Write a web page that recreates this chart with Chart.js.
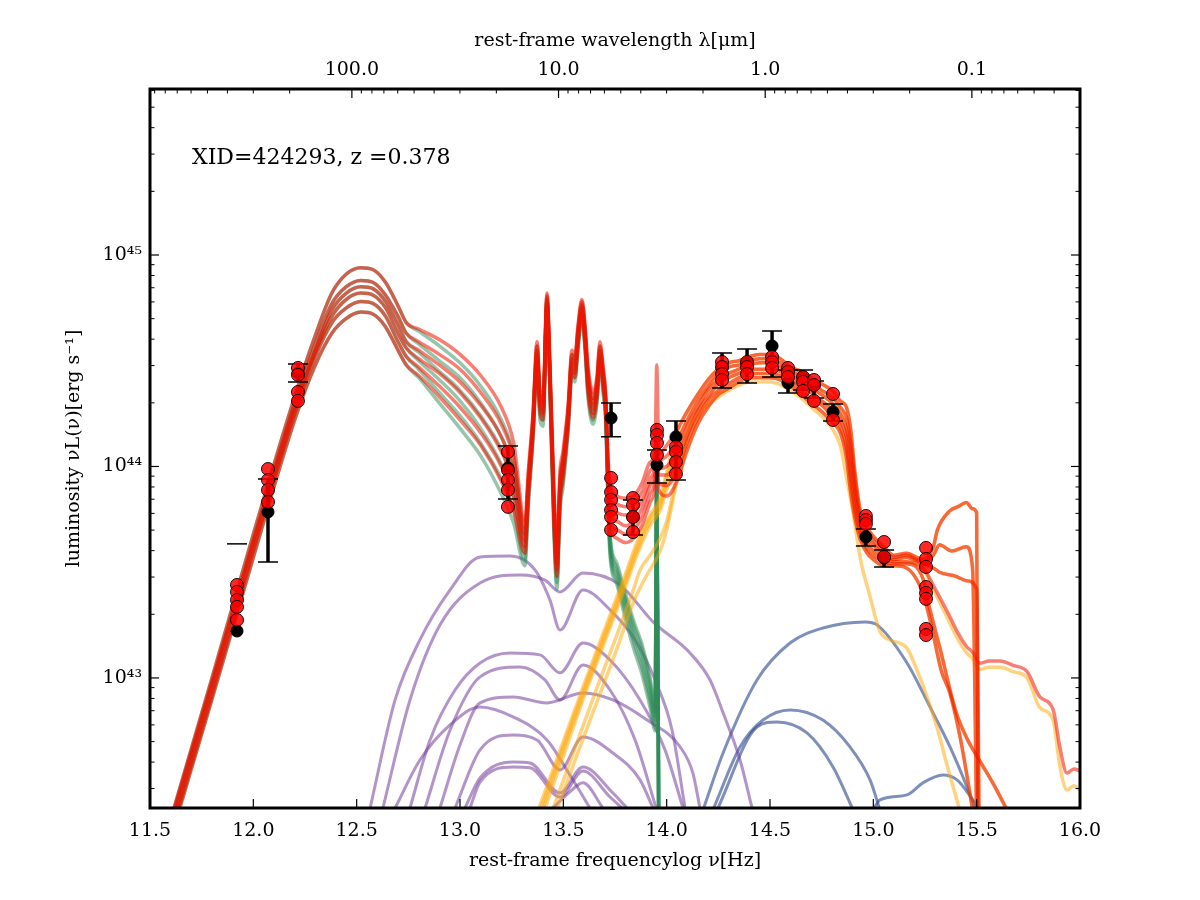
<!DOCTYPE html>
<html><head><meta charset="utf-8">
<script src="https://cdn.jsdelivr.net/npm/chart.js@4.4.1/dist/chart.umd.min.js"></script>
<style>html,body{margin:0;padding:0;background:#fff;}canvas{display:block;}</style>
</head><body>
<canvas id="c" width="1200" height="900"></canvas>
<script>
// ---------- axis ticks ----------
const xTickValues = [11.5, 12.0, 12.5, 13.0, 13.5, 14.0, 14.5, 15.0, 15.5, 16.0];
const xTickLabels = ['11.5','12.0','12.5','13.0','13.5','14.0','14.5','15.0','15.5','16.0'];
const wavelengthTicks = [100.0, 10.0, 1.0, 0.1];
const wavelengthLabels = ['100.0','10.0','1.0','0.1'];
const yTickExps = [43, 44, 45];
const yTickLabels = ['10\u2074\u00b3', '10\u2074\u2074', '10\u2074\u2075'];
const C_UM = 2.998e14; // speed of light in micron/s

// ---------- starburst (green) & total (red) models, log10 L vs log10 nu ----------
const firGrid = [11.60, 11.80, 12.00, 12.20, 12.30, 12.38, 12.45, 12.52, 12.58, 12.64, 12.70, 12.74, 12.80, 12.90, 13.00, 13.10, 13.20, 13.26, 13.314, 13.33, 13.353, 13.373, 13.387, 13.402, 13.421, 13.435, 13.455, 13.469, 13.484, 13.498, 13.523, 13.542, 13.556, 13.571, 13.590, 13.605, 13.619, 13.644, 13.663, 13.677, 13.692, 13.706, 13.716, 13.726];
const sbTailGrid = [13.76, 13.80, 13.84, 13.88, 13.92, 13.944, 13.952, 13.962];

const sb1 = [42.33, 43.00, 43.68, 44.33, 44.62, 44.82, 44.91, 44.94, 44.93, 44.87, 44.76, 44.68, 44.64, 44.57, 44.49, 44.38, 44.22, 44.05, 43.68, 43.92, 44.22, 44.57, 44.33, 44.30, 44.80, 44.46, 43.83, 43.57, 43.93, 44.03, 44.26, 44.53, 44.50, 44.65, 44.77, 44.65, 44.45, 44.32, 44.40, 44.57, 44.45, 44.29, 43.95, 43.68, 43.54, 43.40, 43.27, 43.16, 43.00, 42.86, 43.95, 42.20];
const sb2 = [42.30, 42.97, 43.65, 44.30, 44.58, 44.77, 44.85, 44.88, 44.87, 44.81, 44.71, 44.63, 44.58, 44.50, 44.42, 44.30, 44.14, 43.98, 43.65, 43.90, 44.20, 44.55, 44.31, 44.28, 44.79, 44.44, 43.80, 43.54, 43.90, 44.00, 44.24, 44.51, 44.48, 44.63, 44.76, 44.63, 44.42, 44.29, 44.38, 44.55, 44.43, 44.27, 43.92, 43.66, 43.52, 43.38, 43.25, 43.14, 42.98, 42.84, 43.93, 42.20];
const sb3 = [42.32, 42.98, 43.64, 44.28, 44.55, 44.74, 44.82, 44.85, 44.84, 44.78, 44.67, 44.59, 44.54, 44.45, 44.36, 44.24, 44.08, 43.92, 43.62, 43.87, 44.18, 44.53, 44.29, 44.26, 44.77, 44.42, 43.76, 43.51, 43.87, 43.98, 44.22, 44.49, 44.46, 44.61, 44.74, 44.61, 44.40, 44.27, 44.36, 44.53, 44.41, 44.25, 43.90, 43.64, 43.50, 43.36, 43.22, 43.11, 42.95, 42.82, 43.92, 42.20];
const sb4 = [42.28, 42.95, 43.62, 44.27, 44.54, 44.71, 44.79, 44.82, 44.81, 44.75, 44.63, 44.56, 44.50, 44.41, 44.31, 44.18, 44.01, 43.86, 43.59, 43.85, 44.16, 44.51, 44.27, 44.24, 44.76, 44.40, 43.73, 43.48, 43.84, 43.95, 44.20, 44.47, 44.44, 44.59, 44.73, 44.59, 44.38, 44.25, 44.34, 44.51, 44.39, 44.23, 43.87, 43.62, 43.48, 43.34, 43.20, 43.08, 42.92, 42.80, 43.90, 42.20];
const sb5 = [42.26, 42.92, 43.60, 44.25, 44.52, 44.68, 44.75, 44.78, 44.77, 44.71, 44.59, 44.52, 44.46, 44.35, 44.24, 44.11, 43.94, 43.79, 43.56, 43.83, 44.14, 44.49, 44.25, 44.22, 44.75, 44.38, 43.70, 43.45, 43.82, 43.93, 44.18, 44.45, 44.42, 44.57, 44.72, 44.57, 44.35, 44.22, 44.32, 44.49, 44.37, 44.21, 43.85, 43.60, 43.46, 43.31, 43.17, 43.05, 42.89, 42.78, 43.88, 42.20];
const sb6 = [42.24, 42.90, 43.57, 44.22, 44.48, 44.63, 44.70, 44.73, 44.72, 44.66, 44.55, 44.48, 44.42, 44.30, 44.18, 44.05, 43.87, 43.73, 43.53, 43.80, 44.12, 44.47, 44.22, 44.19, 44.73, 44.36, 43.67, 43.42, 43.79, 43.90, 44.16, 44.43, 44.40, 44.55, 44.70, 44.55, 44.33, 44.20, 44.30, 44.47, 44.35, 44.19, 43.82, 43.58, 43.44, 43.28, 43.14, 43.02, 42.86, 42.75, 43.86, 42.20];

const totMir1 = [42.33, 43.00, 43.68, 44.33, 44.62, 44.82, 44.91, 44.94, 44.93, 44.87, 44.76, 44.68, 44.65, 44.60, 44.53, 44.43, 44.28, 44.11, 43.74, 43.97, 44.25, 44.59, 44.36, 44.33, 44.82, 44.49, 43.88, 43.63, 43.98, 44.07, 44.29, 44.55, 44.52, 44.67, 44.79, 44.67, 44.48, 44.35, 44.43, 44.59, 44.48, 44.33, 44.05, 43.92];
const totMir2 = [42.30, 42.97, 43.65, 44.30, 44.58, 44.77, 44.85, 44.88, 44.87, 44.81, 44.71, 44.63, 44.59, 44.53, 44.46, 44.35, 44.20, 44.04, 43.71, 43.95, 44.23, 44.57, 44.34, 44.31, 44.81, 44.47, 43.85, 43.60, 43.95, 44.04, 44.27, 44.53, 44.50, 44.65, 44.78, 44.65, 44.45, 44.32, 44.41, 44.57, 44.46, 44.31, 44.02, 43.86];
const totMir3 = [42.32, 42.98, 43.64, 44.28, 44.55, 44.74, 44.82, 44.85, 44.84, 44.78, 44.67, 44.59, 44.55, 44.48, 44.40, 44.29, 44.14, 43.98, 43.68, 43.92, 44.21, 44.55, 44.32, 44.29, 44.79, 44.45, 43.81, 43.57, 43.92, 44.02, 44.25, 44.51, 44.48, 44.63, 44.76, 44.63, 44.43, 44.30, 44.39, 44.55, 44.44, 44.29, 44.00, 43.82];
const totMir4 = [42.28, 42.95, 43.62, 44.27, 44.54, 44.71, 44.79, 44.82, 44.81, 44.75, 44.63, 44.56, 44.51, 44.44, 44.35, 44.23, 44.07, 43.92, 43.65, 43.90, 44.19, 44.53, 44.30, 44.27, 44.78, 44.43, 43.78, 43.54, 43.89, 43.99, 44.23, 44.49, 44.46, 44.61, 44.75, 44.61, 44.41, 44.28, 44.37, 44.53, 44.42, 44.27, 43.97, 43.78];
const totMir5 = [42.26, 42.92, 43.60, 44.25, 44.52, 44.68, 44.75, 44.78, 44.77, 44.71, 44.59, 44.52, 44.47, 44.38, 44.28, 44.16, 44.00, 43.85, 43.62, 43.88, 44.17, 44.51, 44.28, 44.25, 44.77, 44.41, 43.75, 43.51, 43.87, 43.97, 44.21, 44.47, 44.44, 44.59, 44.74, 44.59, 44.38, 44.25, 44.35, 44.51, 44.40, 44.25, 43.95, 43.74];
const totMir6 = [42.24, 42.90, 43.57, 44.22, 44.48, 44.63, 44.70, 44.73, 44.72, 44.66, 44.55, 44.48, 44.43, 44.33, 44.22, 44.10, 43.93, 43.79, 43.59, 43.85, 44.15, 44.49, 44.25, 44.22, 44.75, 44.39, 43.72, 43.48, 43.84, 43.94, 44.19, 44.45, 44.42, 44.57, 44.72, 44.57, 44.36, 44.23, 44.33, 44.49, 44.38, 44.23, 43.92, 43.72];

const optGrid = [13.76, 13.80, 13.84, 13.88, 13.92, 13.944, 13.952, 13.962, 14.00, 14.05, 14.10, 14.15, 14.20, 14.25, 14.30, 14.35, 14.40, 14.45, 14.50, 14.55, 14.60, 14.65, 14.70, 14.75, 14.80, 14.84, 14.87, 14.89, 14.91, 14.935, 14.97, 15.00, 15.05, 15.10, 15.16, 15.24];
const totOpt1 = [43.86, 43.85, 43.86, 43.92, 44.02, 44.08, 44.48, 44.06, 44.10, 44.17, 44.26, 44.34, 44.41, 44.46, 44.49, 44.50, 44.52, 44.53, 44.53, 44.51, 44.47, 44.45, 44.42, 44.39, 44.36, 44.31, 44.28, 44.18, 43.98, 43.80, 43.71, 43.67, 43.62, 43.58, 43.59, 43.56];
const totOpt2 = [43.82, 43.81, 43.82, 43.88, 43.98, 44.04, 44.20, 44.03, 44.05, 44.12, 44.22, 44.31, 44.38, 44.44, 44.47, 44.48, 44.50, 44.51, 44.51, 44.49, 44.45, 44.43, 44.40, 44.36, 44.33, 44.28, 44.23, 44.12, 43.94, 43.77, 43.69, 43.65, 43.60, 43.57, 43.58, 43.55];
const totOpt3 = [43.78, 43.77, 43.78, 43.84, 43.94, 44.01, 44.12, 43.99, 44.00, 44.07, 44.19, 44.28, 44.36, 44.41, 44.44, 44.46, 44.48, 44.49, 44.49, 44.47, 44.43, 44.41, 44.37, 44.34, 44.30, 44.25, 44.18, 44.06, 43.89, 43.74, 43.66, 43.63, 43.58, 43.56, 43.57, 43.54];
const totOpt4 = [43.74, 43.72, 43.74, 43.80, 43.91, 43.97, 44.10, 43.96, 43.96, 44.03, 44.15, 44.26, 44.33, 44.39, 44.42, 44.44, 44.46, 44.46, 44.46, 44.45, 44.42, 44.38, 44.35, 44.31, 44.27, 44.22, 44.14, 44.00, 43.85, 43.72, 43.64, 43.60, 43.57, 43.55, 43.55, 43.52];
const totOpt5 = [43.70, 43.68, 43.70, 43.76, 43.87, 43.94, 44.05, 43.92, 43.91, 43.98, 44.12, 44.23, 44.31, 44.36, 44.39, 44.42, 44.44, 44.44, 44.44, 44.43, 44.40, 44.36, 44.32, 44.29, 44.24, 44.19, 44.09, 43.94, 43.80, 43.69, 43.61, 43.58, 43.55, 43.54, 43.54, 43.47];
const totOpt6 = [43.66, 43.64, 43.66, 43.72, 43.83, 43.90, 44.02, 43.89, 43.86, 43.93, 44.08, 44.20, 44.28, 44.34, 44.37, 44.40, 44.42, 44.42, 44.42, 44.41, 44.38, 44.34, 44.30, 44.26, 44.21, 44.16, 44.04, 43.88, 43.76, 43.66, 43.59, 43.56, 43.53, 43.53, 43.52, 43.40];

const totUv1 = [[15.29,43.62],[15.31,43.70],[15.37,43.79],[15.41,43.81],[15.45,43.83],[15.48,43.80],[15.50,43.78],[15.506,42.30]];
const totUv2 = [[15.29,43.58],[15.32,43.63],[15.38,43.60],[15.45,43.62],[15.48,43.52],[15.50,42.30]];
const totUv3 = [[15.29,43.52],[15.32,43.50],[15.40,43.48],[15.45,43.46],[15.50,43.42],[15.512,42.30]];
const totUv4 = [[15.30,43.42],[15.37,43.29],[15.405,43.22],[15.45,43.15],[15.482,43.12],[15.516,43.07],[15.56,43.08],[15.613,43.08],[15.676,43.06],[15.744,43.03],[15.806,42.91],[15.87,42.85],[15.903,42.67],[15.937,42.55],[15.97,42.57],[16.0,42.56]];
const totUv5 = [[15.26,43.38],[15.32,43.15],[15.40,42.84],[15.45,42.72],[15.52,42.60],[15.58,42.50],[15.65,42.37]];
const totUv6 = [[15.28,43.25],[15.33,43.03],[15.37,42.93],[15.42,42.72],[15.48,42.38]];

// ---------- host galaxy (orange): rising mid-IR part; follows the totals in the optical/UV ----------
const galMir1 = [[13.38,42.38],[13.50,42.70],[13.60,42.97],[13.70,43.23],[13.80,43.49],[13.86,43.65],[13.92,43.77],[13.968,43.85],[14.00,43.97]];
const galMir2 = [[13.39,42.38],[13.50,42.68],[13.60,42.95],[13.70,43.21],[13.80,43.47],[13.86,43.63],[13.92,43.76],[13.968,43.83],[14.00,43.95]];
const galMir3 = [[13.40,42.38],[13.50,42.66],[13.60,42.93],[13.70,43.19],[13.80,43.45],[13.86,43.61],[13.92,43.74],[13.968,43.81],[14.00,43.92]];
const galMir4 = [[13.41,42.38],[13.50,42.63],[13.60,42.91],[13.70,43.17],[13.80,43.43],[13.86,43.59],[13.92,43.72],[13.968,43.79],[14.00,43.89]];
const galMir5 = [[13.45,42.38],[13.55,42.65],[13.65,42.92],[13.75,43.18],[13.84,43.42],[13.871,43.51],[13.92,43.58],[13.968,43.66],[14.00,43.74],[14.03,43.87]];
const galMir6 = [[13.47,42.38],[13.56,42.62],[13.66,42.88],[13.76,43.14],[13.84,43.36],[13.90,43.48],[13.968,43.60],[14.00,43.70],[14.03,43.84]];
const galTail4 = [[15.30,43.40],[15.37,43.26],[15.405,43.19],[15.45,43.12],[15.482,43.09],[15.516,43.04],[15.56,43.05],[15.613,43.05],[15.676,43.03],[15.744,43.00],[15.806,42.86],[15.87,42.80],[15.903,42.58],[15.937,42.47],[15.97,42.49],[16.0,42.47]];
const galLow = [[14.07,43.98],[14.098,44.14],[14.15,44.24],[14.20,44.29],[14.30,44.36],[14.40,44.40],[14.50,44.40],[14.60,44.36],[14.70,44.28],[14.80,44.18],[14.84,44.10],[14.87,43.95],[14.902,43.78],[14.94,43.55],[14.98,43.40],[15.032,43.22],[15.08,43.18],[15.163,43.14],[15.21,43.04],[15.26,42.91],[15.31,42.76],[15.356,42.59],[15.42,42.37]];

// ---------- torus (purple) ----------
const torus1 = [[12.565,42.385],[12.686,42.896],[12.806,43.18],[12.952,43.416],[13.097,43.572],[13.242,43.577],[13.363,43.511],[13.435,43.369],[13.484,43.227],[13.595,43.416],[13.726,43.322],[13.847,43.18],[13.944,42.99],[14.026,42.754],[14.089,42.385]];
const torus2 = [[12.627,42.385],[12.758,42.896],[12.903,43.25],[13.097,43.449],[13.290,43.487],[13.411,43.463],[13.484,43.407],[13.595,43.496],[13.774,43.44],[13.934,43.265],[14.113,43.118],[14.21,42.99],[14.273,42.835],[14.355,42.612],[14.413,42.385]];
const torus3 = [[12.758,42.385],[12.855,42.707],[12.976,42.943],[13.097,43.071],[13.242,43.118],[13.387,43.109],[13.484,43.024],[13.595,43.165],[13.726,43.085],[13.871,42.896],[13.992,42.66],[14.079,42.385]];
const torus4 = [[12.831,42.385],[12.952,42.754],[13.097,43.005],[13.290,43.052],[13.411,42.991],[13.484,42.896],[13.595,43.061],[13.726,42.943],[13.847,42.707],[13.949,42.385]];
const torus5 = [[12.903,42.385],[13.0,42.683],[13.097,42.882],[13.257,42.91],[13.421,42.882],[13.595,42.929],[13.74,42.896],[13.905,42.801],[14.065,42.674],[14.127,42.55],[14.161,42.385]];
const torus6 = [[12.686,42.385],[12.806,42.612],[12.952,42.778],[13.097,42.863],[13.257,42.816],[13.421,42.707],[13.532,42.541],[13.629,42.385]];
const torus7 = [[12.976,42.385],[13.097,42.66],[13.257,42.73],[13.373,42.707],[13.484,42.565],[13.595,42.721],[13.74,42.645],[13.871,42.518],[13.934,42.385]];
const torus8 = [[13.024,42.385],[13.097,42.527],[13.257,42.603],[13.339,42.598],[13.484,42.456],[13.595,42.579],[13.74,42.456],[13.808,42.385]];
const torus9 = [[13.048,42.385],[13.097,42.508],[13.257,42.579],[13.339,42.575],[13.484,42.437],[13.595,42.56],[13.726,42.437],[13.784,42.385]];
const torus10 = [[13.45,42.385],[13.53,42.46],[13.595,42.504],[13.692,42.385]];

// ---------- big blue bump (blue) ----------
const bbb1 = [[14.176,42.376],[14.273,42.645],[14.437,42.99],[14.597,43.165],[14.756,43.236],[14.96,43.265],[15.018,43.251],[15.163,43.071],[15.274,42.863],[15.371,42.674],[15.453,42.485],[15.492,42.385]];
const bbb2 = [[14.224,42.376],[14.355,42.674],[14.466,42.801],[14.597,42.849],[14.756,42.801],[14.887,42.674],[14.984,42.518],[15.032,42.376]];
const bbb3 = [[14.244,42.376],[14.437,42.768],[14.534,42.792],[14.679,42.74],[14.805,42.579],[14.902,42.376]];
const bbb4 = [[14.998,42.376],[15.032,42.423],[15.163,42.447],[15.24,42.504],[15.337,42.541],[15.405,42.518],[15.482,42.423],[15.516,42.376]];

// ---------- model photometry (red circles) ----------
const modelX = [11.921,11.921,11.921,11.921,11.921, 12.071,12.071,12.071,12.071, 12.216,12.216,12.216,12.216, 13.232,13.232,13.232,13.232,13.232, 13.731,13.731,13.731,13.731,13.731,13.731, 13.837,13.837,13.837,13.837, 13.953,13.953,13.953,13.953, 14.045,14.045,14.045,14.045, 14.268,14.268,14.268,14.268, 14.389,14.389,14.389, 14.510,14.510,14.510, 14.587,14.587,14.587, 14.660,14.660,14.660, 14.713,14.713,14.713, 14.805,14.805, 14.964,14.964,14.964, 15.052,15.052, 15.255,15.255,15.255,15.255,15.255,15.255,15.255,15.255];
const modelY = [43.44,43.407,43.369,43.336,43.274, 43.988,43.936,43.889,43.832, 44.466,44.433,44.352,44.31, 44.069,43.983,43.936,43.889,43.809, 43.946,43.879,43.842,43.794,43.761,43.70, 43.851,43.818,43.761,43.69, 44.173,44.149,44.111,44.054, 44.092,44.069,44.021,43.965, 44.494,44.47,44.437,44.409, 44.494,44.47,44.437, 44.518,44.494,44.466, 44.466,44.447,44.423, 44.423,44.40,44.357, 44.409,44.385,44.31, 44.343,44.22, 43.766,43.747,43.728, 43.643,43.572, 43.615,43.563,43.525,43.43,43.402,43.374,43.232,43.203];

// ---------- observed photometry (black circles with errors) ----------
const obsX  = [12.071, 12.216, 13.232, 13.731, 13.837, 13.953, 14.045, 14.268, 14.389, 14.510, 14.587, 14.660, 14.713, 14.805, 14.964, 15.052];
const obsY  = [43.785, 44.442, 43.993, 44.229, 43.761, 44.007, 44.140, 44.466, 44.489, 44.570, 44.395, 44.423, 44.385, 44.258, 43.667, 43.567];
const obsLo = [43.548, 44.400, 43.846, 44.140, 43.676, 43.922, 43.936, 44.371, 44.395, 44.423, 44.348, 44.362, 44.324, 44.215, 43.624, 43.525];
const obsHi = [43.941, 44.485, 44.097, 44.300, 43.842, 44.078, 44.215, 44.537, 44.556, 44.641, 44.456, 44.456, 44.404, 44.296, 43.704, 43.605];
const obsCapX = [11.921];
const obsCapY = [43.634];
const obsLowX = [11.921];
const obsLowY = [43.222];

// ---------- helpers ----------
const P = v => Math.pow(10, v);
const toPts = (xs, ys) => xs.map((x, i) => ({x: x, y: P(ys[i])}));
const pairPts = arr => arr.map(p => ({x: p[0], y: P(p[1])}));

const SERIF = '"DejaVu Serif", "Liberation Serif", serif';
const GREEN = 'rgba(46,139,87,0.5)';
const RED = 'rgba(240,20,0,0.55)';
const ORANGE = 'rgba(255,165,0,0.5)';
const PURPLE = 'rgba(115,60,155,0.55)';
const BLUE = 'rgba(40,70,140,0.6)';

function curve(data, color, width, order) {
  return {data: data, showLine: true, borderColor: color, backgroundColor: color, borderWidth: width,
    pointRadius: 0, pointHoverRadius: 0, tension: 0, cubicInterpolationMode: 'monotone', fill: false, order: order, clip: 0,
    borderJoinStyle: 'round', borderCapStyle: 'round'};
}

const datasets = [];
[torus1,torus2,torus3,torus4,torus5,torus6,torus7,torus8,torus9,torus10].forEach(t => datasets.push(curve(pairPts(t), PURPLE, 3, 20)));
[bbb1,bbb2,bbb3,bbb4].forEach(b => datasets.push(curve(pairPts(b), BLUE, 3, 20)));
const sbGridAll = firGrid.concat(sbTailGrid);
[sb1,sb2,sb3,sb4,sb5,sb6].forEach(s => datasets.push(curve(toPts(sbGridAll, s), GREEN, 3.5, 16)));
const totM = [totMir1,totMir2,totMir3,totMir4,totMir5,totMir6];
const totO = [totOpt1,totOpt2,totOpt3,totOpt4,totOpt5,totOpt6];
const totU = [totUv1,totUv2,totUv3,totUv4,totUv5,totUv6];
const galM = [galMir1,galMir2,galMir3,galMir4,galMir5,galMir6];
const optFromK = optGrid.slice(9);
for (let i = 0; i < 6; i++) {
  const tail = (i === 3) ? galTail4 : totU[i];
  datasets.push(curve(pairPts(galM[i]).concat(toPts(optFromK, totO[i].slice(9)), pairPts(tail)), ORANGE, 3.5, 15));
}
datasets.push(curve(pairPts(galLow), ORANGE, 3.5, 15));
for (let i = 0; i < 6; i++) {
  datasets.push(curve(toPts(firGrid, totM[i]).concat(toPts(optGrid, totO[i]), pairPts(totU[i])), RED, 3.5, 14));
}
datasets.push({label: 'observed', data: toPts(obsX, obsY).concat(toPts(obsLowX, obsLowY)), showLine: false,
  pointRadius: 6, pointBackgroundColor: '#000', pointBorderColor: '#000', pointBorderWidth: 1, order: 3, clip: 0});
datasets.push({label: 'model', data: toPts(modelX, modelY), showLine: false,
  pointRadius: 6.5, pointBackgroundColor: 'rgba(255,0,0,0.85)', pointBorderColor: 'rgba(0,0,0,0.9)', pointBorderWidth: 1, order: 1, clip: 0});

// ---------- plugins ----------
const errorBars = {
  id: 'errorBars',
  beforeDatasetDraw(chart, args) {
    if (chart.data.datasets[args.index].label !== 'observed') return;
    const {ctx, scales: {x, y}, chartArea: a} = chart;
    ctx.save();
    ctx.beginPath(); ctx.rect(a.left, a.top, a.right - a.left, a.bottom - a.top); ctx.clip();
    ctx.strokeStyle = '#000';
    obsX.forEach((v, i) => {
      const px = x.getPixelForValue(v);
      const lo = y.getPixelForValue(P(obsLo[i])), hi = y.getPixelForValue(P(obsHi[i]));
      ctx.lineWidth = 3.5; ctx.beginPath(); ctx.moveTo(px, lo); ctx.lineTo(px, hi); ctx.stroke();
      ctx.lineWidth = 1.5; ctx.beginPath();
      ctx.moveTo(px - 10, lo); ctx.lineTo(px + 10, lo);
      ctx.moveTo(px - 10, hi); ctx.lineTo(px + 10, hi); ctx.stroke();
    });
    obsCapX.forEach((v, i) => {
      const px = x.getPixelForValue(v), py = y.getPixelForValue(P(obsCapY[i]));
      ctx.lineWidth = 1.5; ctx.beginPath(); ctx.moveTo(px - 10, py); ctx.lineTo(px + 10, py); ctx.stroke();
    });
    ctx.restore();
  }
};

const frame = {
  id: 'frame',
  afterDraw(chart) {
    const {ctx, chartArea: a, scales} = chart;
    const L = a.left, R = a.right, T = a.top, B = a.bottom;
    ctx.save();
    ctx.strokeStyle = '#000';
    const seg = (x1, y1, x2, y2, w) => { ctx.lineWidth = w; ctx.beginPath(); ctx.moveTo(x1, y1); ctx.lineTo(x2, y2); ctx.stroke(); };
    xTickValues.forEach(v => { const px = scales.x.getPixelForValue(v); seg(px, B, px, B - 9, 1.2); });
    wavelengthTicks.forEach(l => { const px = scales.x2.getPixelForValue(Math.log10(C_UM / l)); seg(px, T, px, T + 9, 1.2); });
    for (let d = -2; d <= 2; d++) {
      for (let k = 2; k <= 9; k++) {
        const lam = k * Math.pow(10, d);
        const v = Math.log10(C_UM / lam);
        if (v <= 11.5 || v >= 16) continue;
        const px = scales.x2.getPixelForValue(v); seg(px, T, px, T + 4.5, 1);
      }
    }
    yTickExps.forEach(e => { const py = scales.y.getPixelForValue(P(e)); seg(L, py, L + 9, py, 1.2); seg(R, py, R - 9, py, 1.2); });
    for (let e = 42; e <= 45; e++) {
      for (let k = 2; k <= 9; k++) {
        const v = k * P(e);
        if (v < scales.y.min || v > scales.y.max) continue;
        const py = scales.y.getPixelForValue(v); seg(L, py, L + 4.5, py, 1); seg(R, py, R - 4.5, py, 1);
      }
    }
    ctx.lineWidth = 3;
    ctx.strokeRect(L, T, R - L, B - T);
    ctx.fillStyle = '#000';
    ctx.font = '22px ' + SERIF;
    ctx.textBaseline = 'alphabetic';
    ctx.textAlign = 'left';
    ctx.fillText('XID=424293, z =0.378', L + 42, T + 75);
    ctx.restore();
  }
};

const tickFont = {family: SERIF, size: 19};
const titleFont = {family: SERIF, size: 19};

new Chart(document.getElementById('c'), {
  type: 'scatter',
  data: {datasets: datasets},
  plugins: [errorBars, frame],
  options: {
    responsive: false, animation: false, devicePixelRatio: 1,
    layout: {padding: {left: 0, right: 120, top: 0, bottom: 0}},
    plugins: {legend: {display: false}, tooltip: {enabled: false}},
    scales: {
      x: {
        type: 'linear', position: 'bottom', min: 11.5, max: 16.0,
        afterBuildTicks: s => { s.ticks = xTickValues.map(v => ({value: v})); },
        ticks: {callback: (v, i) => xTickLabels[i], font: tickFont, color: '#000', padding: 12, maxRotation: 0, autoSkip: false},
        grid: {display: false, drawTicks: false}, border: {display: false},
        title: {display: true, text: 'rest-frame frequencylog \u03bd[Hz]', font: titleFont, color: '#000', padding: {top: 0, bottom: 28}},
        afterFit: s => { s.height = 92; }
      },
      x2: {
        type: 'linear', axis: 'x', position: 'top', min: 11.5, max: 16.0,
        afterBuildTicks: s => { s.ticks = wavelengthTicks.map(l => ({value: Math.log10(C_UM / l)})); },
        ticks: {callback: (v, i) => wavelengthLabels[i], font: tickFont, color: '#000', padding: 8, maxRotation: 0, autoSkip: false},
        grid: {display: false, drawTicks: false}, border: {display: false},
        title: {display: true, text: 'rest-frame wavelength \u03bb[\u03bcm]', font: titleFont, color: '#000', padding: {top: 30, bottom: 0}},
        afterFit: s => { s.height = 89; }
      },
      y: {
        type: 'logarithmic', position: 'left', min: P(42.385), max: P(45.785),
        afterBuildTicks: s => { s.ticks = yTickExps.map(e => ({value: P(e)})); },
        ticks: {callback: (v, i) => yTickLabels[i], font: tickFont, color: '#000', padding: 8, autoSkip: false},
        grid: {display: false, drawTicks: false}, border: {display: false},
        title: {display: true, text: 'luminosity \u03bdL(\u03bd)[erg s\u207b\u00b9]', font: titleFont, color: '#000', padding: {top: 63, bottom: 0}},
        afterFit: s => { s.width = 150; }
      }
    }
  }
});
</script>
</body></html>
